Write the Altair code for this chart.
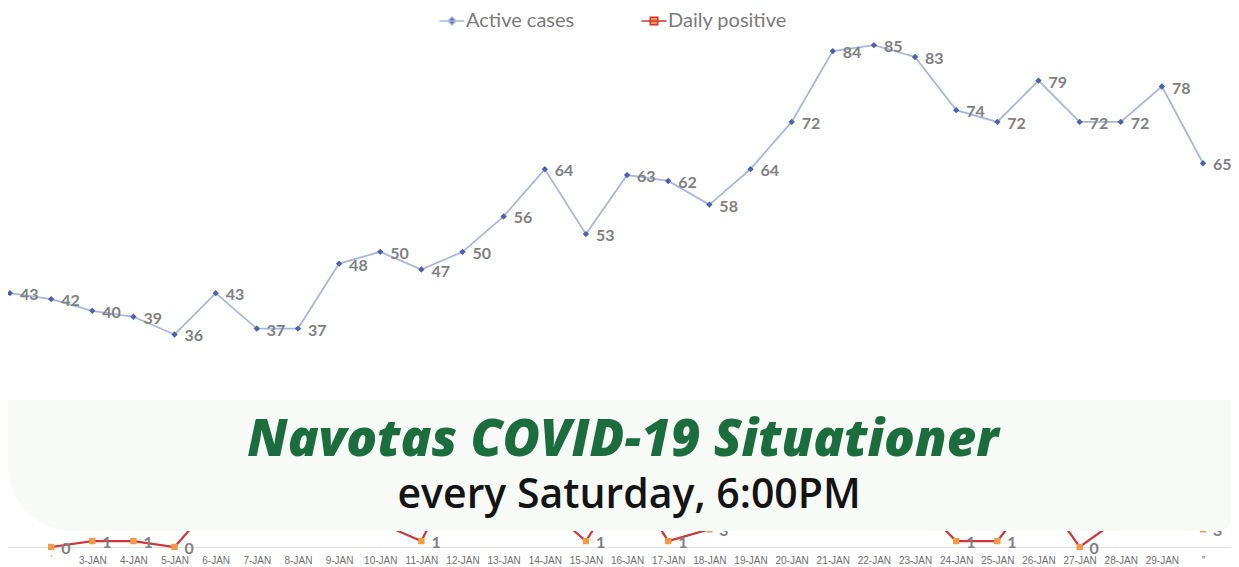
import json
import altair as alt
import pandas as pd

# ---- data ----
dates = ["", "`", "3-JAN", "4-JAN", "5-JAN", "6-JAN", "7-JAN", "8-JAN", "9-JAN", "10-JAN",
         "11-JAN", "12-JAN", "13-JAN", "14-JAN", "15-JAN", "16-JAN", "17-JAN", "18-JAN",
         "19-JAN", "20-JAN", "21-JAN", "22-JAN", "23-JAN", "24-JAN", "25-JAN", "26-JAN",
         "27-JAN", "28-JAN", "29-JAN", "\""]
active = [43, 42, 40, 39, 36, 43, 37, 37, 48, 50, 47, 50, 56, 64, 53, 63, 62, 58, 64, 72,
          84, 85, 83, 74, 72, 79, 72, 72, 78, 65]
daily = [None, 0, 1, 1, 0, 8, 9, 5, 8, 4, 1, 15, 10, 7, 1, 12, 1, 3, 7, 9,
         12, 8, 8, 1, 1, 10, 0, 5, 8, 3]

title_text = "Navotas COVID-19 Situationer"
subtitle_text = "every Saturday, 6:00PM"

df = pd.DataFrame({"idx": list(range(len(dates))), "date": dates,
                   "active": active, "daily": daily})
df["s_active"] = "Active cases"
df["s_daily"] = "Daily positive"

W, H = 1223, 539
xmin, xmax = -0.0486, 29.68
ymax = 91.3
band_lo, band_hi = 2.7, 24.9

label_expr = json.dumps(dates) + "[datum.value]"

xscale = alt.Scale(domain=[xmin, xmax], nice=False, zero=False)
x = alt.X("idx:Q", scale=xscale,
          axis=alt.Axis(values=list(range(len(dates))), labelExpr=label_expr, grid=False,
                        ticks=False, domain=True, domainColor="#e2e2e2", domainWidth=1,
                        labelFont="Liberation Sans", labelFontSize=10, labelColor="#6f6f6f",
                        labelPadding=8, labelOverlap=False, labelFlush=False, title=None))
ysc = alt.Scale(domain=[0, ymax], nice=False, zero=True)

base = alt.Chart(df)

ACTIVE_LINE = "#a9b7da"
ACTIVE_PT = "#4a62ae"
DAILY_LINE = "#d1363c"
DAILY_PT = "#f29a45"

active_sym = "M-2.5,0H2.5M0,-0.8L0.8,0L0,0.8L-0.8,0Z"
daily_sym = "M-2.5,0H2.5M-0.75,-0.75H0.75V0.75H-0.75Z"

def leg(lx, sym):
    return alt.Legend(title=None, orient="none", legendX=lx, legendY=3, symbolType=sym,
                      symbolSize=100, symbolStrokeWidth=1.5, labelFont="Lato",
                      labelFontSize=20, labelColor="#7b7b7b", labelOffset=4, padding=0)

active_line = base.mark_line(color=ACTIVE_LINE, strokeWidth=1.8).encode(
    x=x, y=alt.Y("active:Q", scale=ysc, axis=None))
active_pts = base.mark_point(filled=True, shape="diamond", size=40, strokeWidth=0, opacity=1).encode(
    x=x, y=alt.Y("active:Q", scale=ysc, axis=None),
    fill=alt.Fill("s_active:N", scale=alt.Scale(range=[ACTIVE_PT]), legend=leg(434, active_sym)),
    stroke=alt.Stroke("s_active:N", scale=alt.Scale(range=[ACTIVE_LINE]), legend=leg(434, active_sym)))

daily_line = base.mark_line(color=DAILY_LINE, strokeWidth=2.2).encode(
    x=x, y=alt.Y("daily:Q", scale=ysc, axis=None))
daily_pts = base.transform_filter("isValid(datum.daily)").mark_point(
    filled=True, shape="square", size=40, strokeWidth=0, opacity=1).encode(
    x=x, y=alt.Y("daily:Q", scale=ysc, axis=None),
    fill=alt.Fill("s_daily:N", scale=alt.Scale(range=[DAILY_PT]), legend=leg(636, daily_sym)),
    stroke=alt.Stroke("s_daily:N", scale=alt.Scale(range=[DAILY_LINE]), legend=leg(636, daily_sym)))

lab_style = dict(align="left", baseline="middle", dx=10, dy=2, font="Lato", fontSize=16,
                 fontWeight="bold", color="#808080")
active_lab = base.mark_text(**lab_style).encode(
    x=x, y=alt.Y("active:Q", scale=ysc, axis=None), text=alt.Text("active:Q", format="d"))
# only the daily labels that are not hidden behind the caption band
daily_lab = base.transform_filter(
    f"isValid(datum.daily) && datum.daily <= {band_lo + 0.5}").mark_text(**lab_style).encode(
    x=x, y=alt.Y("daily:Q", scale=ysc, axis=None), text=alt.Text("daily:Q", format="d"))

one = alt.Chart(pd.DataFrame({"k": [0]}))
band = one.mark_rect(color="#f8faf8", cornerRadiusBottomLeft=65, cornerRadiusBottomRight=12).encode(
    x=alt.X(datum=xmin, type="quantitative", scale=xscale), x2=alt.X2(datum=xmax),
    y=alt.Y(datum=band_lo, type="quantitative", scale=ysc, axis=None), y2=alt.Y2(datum=band_hi))
title = one.mark_text(text=title_text, font="Open Sans", fontSize=51, fontWeight=800,
                      fontStyle="italic", color="#1c6d3e", align="center", baseline="middle").encode(
    x=alt.X(datum=14.9, type="quantitative", scale=xscale),
    y=alt.Y(datum=17.9, type="quantitative", scale=ysc, axis=None))
subtitle = one.mark_text(text=subtitle_text, font="Open Sans", fontSize=41, fontWeight=600,
                         color="#141414", align="center", baseline="middle").encode(
    x=alt.X(datum=15.05, type="quantitative", scale=xscale),
    y=alt.Y(datum=8.7, type="quantitative", scale=ysc, axis=None))

chart = alt.layer(active_line, active_pts, daily_line, daily_pts, active_lab, daily_lab,
                  band, title, subtitle).resolve_scale(
    fill="independent", stroke="independent").resolve_legend(
    fill="independent", stroke="independent").properties(
    width=W, height=H, autosize=alt.AutoSizeParams(type="none"),
    padding={"left": 0, "top": 0, "right": 0, "bottom": 24}).configure_view(strokeWidth=0)

chart.save("out.html", embed_options={"renderer": "svg", "actions": False})
